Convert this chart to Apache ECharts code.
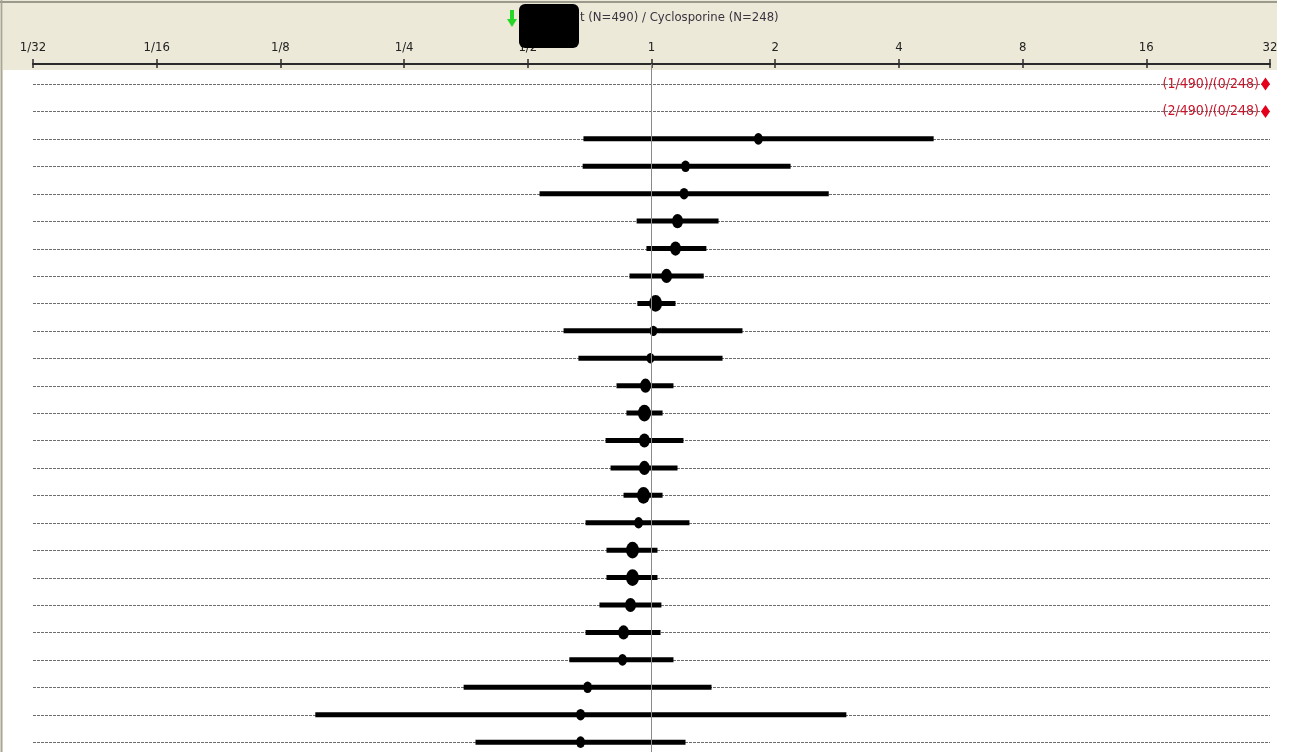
<!DOCTYPE html>
<html>
<head>
<meta charset="utf-8">
<script src="https://cdn.jsdelivr.net/npm/echarts@6/dist/echarts.min.js"></script>
<style>
  html, body { margin: 0; padding: 0; background: #fff; }
  #chart { width: 1299px; height: 752px; }
</style>
</head>
<body>
<div id="chart"></div>
<script>
// ratio scale ticks (log2)
const tickValues = [1 / 32, 1 / 16, 1 / 8, 1 / 4, 1 / 2, 1, 2, 4, 8, 16, 32];
const tickLabels = ["1/32", "1/16", "1/8", "1/4", "1/2", "1", "2", "4", "8", "16", "32"];

// one entry per row, top to bottom
const rowNotes = ["(1/490)/(0/248)", "(2/490)/(0/248)"];
const offScaleValue = 31.2;
const estimate = [null, null, 1.82, 1.21, 1.2, 1.157, 1.144, 1.088, 1.023, 1.011, 0.994, 0.967, 0.961,
  0.961, 0.961, 0.956, 0.93, 0.899, 0.899, 0.889, 0.855, 0.85, 0.699, 0.672, 0.672];
const lower = [null, null, 0.683, 0.68, 0.534, 0.92, 0.972, 0.884, 0.924, 0.611, 0.664, 0.822, 0.869,
  0.773, 0.795, 0.855, 0.691, 0.777, 0.777, 0.747, 0.691, 0.631, 0.349, 0.152, 0.373];
const upper = [null, null, 4.86, 2.18, 2.7, 1.456, 1.36, 1.34, 1.144, 1.665, 1.489, 1.131, 1.064,
  1.196, 1.157, 1.064, 1.237, 1.034, 1.034, 1.057, 1.052, 1.131, 1.4, 2.98, 1.21];
const weight = [null, null, 1, 1, 1, 2, 2, 2, 3, 0.5, 0.5, 2, 3,
  2, 2, 3, 1, 3, 3, 2, 2, 1, 1, 1, 1];

const titleText = "t (N=490) / Cyclosporine (N=248)";

const rows = estimate.map((_, i) => i);
const ciData = [];
const pointData = [];
estimate.forEach((est, i) => {
  if (est == null) return;
  ciData.push([lower[i], upper[i], i]);
  pointData.push({
    value: [est, i],
    symbolSize: [7 + 2 * weight[i], 9 + 2.6 * weight[i]],
  });
});
const noteData = rowNotes.map((txt, i) => ({
  value: [offScaleValue, i],
  label: { formatter: txt },
}));

const chart = echarts.init(document.getElementById("chart"));

const fmt = (v) => {
  const idx = tickValues.findIndex((t) => Math.abs(t - v) / t < 1e-6);
  return idx >= 0 ? tickLabels[idx] : "";
};

const xBase = {
  type: "log",
  logBase: 2,
  min: 1 / 32,
  max: 32,
  interval: 1,
  position: "top",
  splitLine: { show: false },
};

chart.setOption({
  animation: false,
  grid: { left: 33, right: 29, top: 64, bottom: 0 },
  graphic: [
    { type: "rect", z: -10, shape: { x: 0, y: 0, width: 1277, height: 70 }, style: { fill: "#ECE9D8" } },
    { type: "rect", z: -10, shape: { x: 0, y: 0, width: 3, height: 752 }, style: { fill: "#d4d0bf" } },
    { type: "line", z: -9, shape: { x1: 0, y1: 2, x2: 1277, y2: 2 }, style: { stroke: "#9c9a8c", lineWidth: 2 } },
    { type: "line", z: -9, shape: { x1: 1.5, y1: 0, x2: 1.5, y2: 752 }, style: { stroke: "#a8a698", lineWidth: 1 } },
    {
      type: "text", z: 10, left: 580, top: 11,
      style: { text: titleText, fill: "#3a3340", font: "13px 'DejaVu Sans Condensed', 'Liberation Sans Narrow', sans-serif" },
    },
    {
      type: "polygon", z: 10,
      shape: { points: [[510, 10], [514, 10], [514, 19], [517, 19], [512, 27], [507, 19], [510, 19]] },
      style: { fill: "#27d727" },
    },
    { type: "rect", z: 11, shape: { x: 519, y: 4, width: 60, height: 44, r: 6 }, style: { fill: "#000" } },
  ],
  xAxis: [
    Object.assign({}, xBase, {
      axisLine: { onZero: false, lineStyle: { color: "#2b2b2b", width: 2 } },
      axisTick: { show: true, length: 5, lineStyle: { color: "#2b2b2b", width: 1.5 } },
      axisLabel: {
        margin: 10,
        color: "#222",
        fontSize: 13,
        fontFamily: "'Liberation Sans Narrow', 'DejaVu Sans Condensed', sans-serif",
        formatter: fmt,
        showMinLabel: true,
        showMaxLabel: true,
      },
    }),
    Object.assign({}, xBase, {
      axisLine: { show: false, onZero: false },
      axisTick: { show: true, inside: true, length: 4, lineStyle: { color: "#2b2b2b", width: 1.5 } },
      axisLabel: { show: false },
    }),
  ],
  yAxis: {
    type: "value",
    inverse: true,
    min: -0.73,
    max: 24.36,
    show: false,
  },
  series: [
    {
      // dashed row guides
      type: "custom",
      silent: true,
      z: 1,
      data: rows.map((i) => [i]),
      encode: { y: 0 },
      renderItem: (params, api) => {
        const i = api.value(0);
        const a = api.coord([1 / 32, i]);
        const b = api.coord([32, i]);
        return {
          type: "line",
          shape: { x1: a[0], y1: Math.round(a[1]) + 0.5, x2: b[0], y2: Math.round(b[1]) + 0.5 },
          style: { stroke: "#6e6e6e", lineWidth: 1, lineDash: [3, 1] },
        };
      },
      markLine: {
        silent: true,
        symbol: "none",
        label: { show: false },
        lineStyle: { color: "#8a8a8a", width: 1, type: "solid" },
        data: [{ xAxis: 1 }],
      },
    },
    {
      // confidence intervals
      type: "custom",
      silent: true,
      z: 3,
      data: ciData,
      encode: { x: [0, 1], y: 2 },
      renderItem: (params, api) => {
        const a = api.coord([api.value(0), api.value(2)]);
        const b = api.coord([api.value(1), api.value(2)]);
        return {
          type: "rect",
          shape: { x: a[0], y: a[1] - 2.5, width: b[0] - a[0], height: 5 },
          style: { fill: "#000" },
        };
      },
    },
    {
      type: "scatter",
      silent: true,
      z: 4,
      symbol: "circle",
      itemStyle: { color: "#000", opacity: 1 },
      data: pointData,
    },
    {
      type: "scatter",
      silent: true,
      z: 4,
      symbol: "diamond",
      symbolSize: [9, 13],
      itemStyle: { color: "#e4001b", opacity: 1 },
      label: {
        show: true,
        position: "left",
        distance: 2,
        color: "#c8142a",
        fontSize: 14,
        fontFamily: "'DejaVu Sans Condensed', sans-serif",
      },
      data: noteData,
    },
  ],
});
</script>
</body>
</html>
